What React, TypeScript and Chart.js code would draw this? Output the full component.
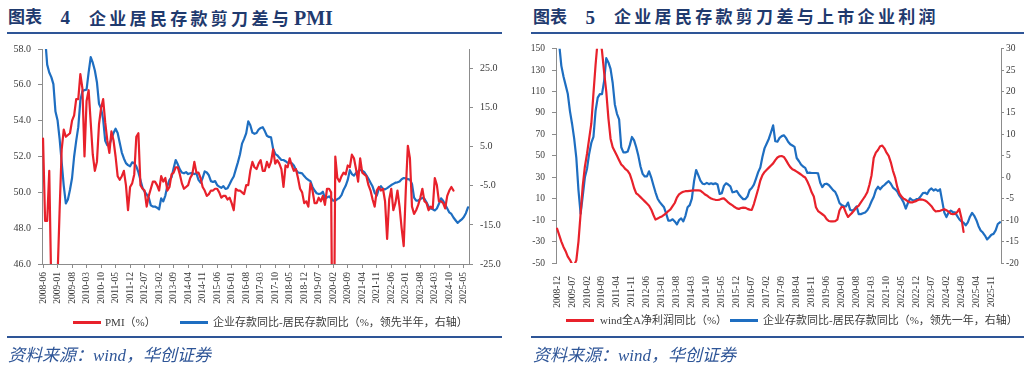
import React, { useEffect, useRef } from 'react';
import { Chart, registerables } from 'chart.js';
Chart.register(...registerables);

const RED = '#e8212b';
const BLUE = '#1e6ec1';
const AXIS = '#8c8c8c';
const TEXT = '#3a3a3a';
const NAVY = '#1f3a6e';
const RULE = '#2e5597';
const CLEAR = 'rgba(0,0,0,0)';
const FONT = "'Liberation Serif', 'Noto Sans CJK SC', serif";

// ---------- data: chart 4 ----------
const leftStart = '2008-06';
const leftCount = 206;
const leftTickLabels = ['2008-06','2009-01','2009-08','2010-03','2010-10','2011-05','2011-12','2012-07','2013-02','2013-09','2014-04','2014-11','2015-06','2016-01','2016-08','2017-03','2017-10','2018-05','2018-12','2019-07','2020-02','2020-09','2021-04','2021-11','2022-06','2023-01','2023-08','2024-03','2024-10','2025-05'];
const pmiLabel = 'PMI（%）';
const pmi = [
  53.0, 48.4, 48.4, 51.2, 44.6, 38.8, 41.2,
  45.3, 49.0, 52.4, 53.5, 53.1, 53.2, 53.3, 54.0, 54.3, 55.2, 55.2, 56.6,
  55.8, 52.0, 55.1, 55.7, 53.9, 52.1, 51.2, 51.7, 53.8, 54.7, 55.2, 53.9,
  52.9, 52.2, 53.4, 52.9, 52.0, 50.9, 50.7, 50.9, 51.2, 50.4, 49.0, 50.3,
  50.5, 51.0, 53.1, 53.3, 50.4, 50.2, 50.1, 49.2, 49.8, 50.2, 50.6, 50.6,
  50.4, 50.1, 50.9, 50.6, 50.8, 50.1, 50.3, 51.0, 51.1, 51.4, 51.4, 51.0,
  50.5, 50.2, 50.3, 50.4, 50.8, 51.0, 51.7, 51.1, 51.1, 50.8, 50.3, 50.1,
  49.8, 49.9, 50.1, 50.1, 50.2, 50.2, 50.0, 49.7, 49.8, 49.8, 49.6, 49.7,
  49.4, 49.0, 50.2, 50.1, 50.1, 50.0, 49.9, 50.4, 50.4, 51.2, 51.7, 51.4,
  51.3, 51.6, 51.8, 51.2, 51.2, 51.7, 51.4, 51.7, 52.4, 51.6, 51.8, 51.6,
  51.3, 50.3, 51.5, 51.4, 51.9, 51.5, 51.2, 51.3, 50.8, 50.2, 50.0, 49.4,
  49.5, 49.2, 50.5, 50.1, 49.4, 49.4, 49.7, 49.5, 49.8, 49.3, 50.2, 50.2,
  50.0, 35.7, 52.0, 50.8, 50.6, 50.9, 51.1, 51.0, 51.5, 51.4, 52.1, 51.9,
  51.3, 50.6, 51.9, 51.1, 51.0, 50.9, 50.4, 50.1, 49.6, 49.2, 50.1, 50.3,
  50.1, 50.2, 49.5, 47.4, 49.6, 50.2, 49.0, 49.4, 50.1, 49.2, 48.0, 47.0,
  50.1, 52.6, 51.9, 49.2, 48.8, 49.0, 49.3, 49.7, 50.2, 49.5, 49.4, 49.0,
  49.2, 49.1, 50.8, 50.4, 49.5, 49.5, 49.4, 49.1, 49.8, 50.1, 50.3, 50.1,
];
const leftSpreadLabel = '企业存款同比-居民存款同比（%，领先半年，右轴）';
const leftSpread = [
  36, 33, 26, 24, 22.8, 21, 14, 11.8, 7, 1,
  -5, -9.5, -8.5, -6, -3, 2.5, 6.5, 10, 16.8, 19.2,
  19.5, 19.6, 24, 27.9, 26.5, 24.5, 21.5, 16, 14.8, 12,
  6.5, 5.4, 5.6, 7, 8.5, 9.6, 8.5, 6, 3.5, 2,
  0.8, 0.3, 0, 1, 0.8, 0, -1.5, -3.5, -5.5, -6.5,
  -7.2, -8, -10, -10.3, -10.3, -10.6, -11, -8.2, -9, -7.5,
  -5, -3.5, -2.8, -0.5, 1.6, 0.5, -0.8, -1.6, -1.8, -1.5,
  -2, -1.8, -1.7, -2, -1.8, -3.5, -4.2, -3, -1.3, -1.6,
  -2.3, -3.8, -4, -3.8, -4.8, -5.2, -5.5, -5.1, -5.8, -5.6,
  -4.6, -3.5, -2.6, -0.8, 1, 3, 5.8, 7, 8.4, 11.5,
  10.5, 8.6, 8.3, 8.5, 9.4, 9.8, 10, 9, 7.8, 7.5,
  7.4, 4.5, 3.2, 2.8, 2.2, 1.6, 1.6, 1.3, 0.9, 0.9,
  0.8, 0.2, -0.9, -1.6, -1.7, -1.8, -2.5, -3.1, -3.5, -3.8,
  -5.3, -6.2, -6.9, -7.1, -7.0, -6.5, -8.2, -8.0, -7.7, -8.2,
  -8.8, -8.8, -8.4, -8.1, -7.4, -6.0, -5.0, -3.5, -1.0, -2.0,
  -2.4, -1.7, -1.3, -0.9, -1.1, -1.5, -2.3, -3.2, -4.2, -5.2,
  -6.8, -7.5, -5.8, -5.1, -5.8, -5.9, -5.6, -5.2, -4.8, -4.5,
  -4.2, -4.1, -3.9, -3.3, -3.0, -3.1, -3.3, -3.4, -4.5, -8.0,
  -8.8, -8.8, -8.4, -8.1, -8.3, -9.2, -10.3, -10.8, -11.0, -11.3,
  -10.8, -9.6, -8.2, -8.8, -9.8, -10.8, -11.8, -12.2, -13.1, -13.8,
  -14.5, -14.0, -13.6, -13.0, -12.0, -10.5,
];
const leftRightAxisTicks = [-25, -15, -5, 5, 15, 25];

// ---------- data: chart 5 ----------
const rightStart = '2008-12';
const rightCount = 208;
const rightTickLabels = ['2008-12','2009-07','2010-02','2010-09','2011-04','2011-11','2012-06','2013-01','2013-08','2014-03','2014-10','2015-05','2015-12','2016-07','2017-02','2017-09','2018-04','2018-11','2019-06','2020-01','2020-08','2021-03','2021-10','2022-05','2022-12','2023-07','2024-02','2024-09','2025-04','2025-11'];
const profitLabel = 'wind全A净利润同比（%）';
const profit = [
  -18, -24, -30, -35, -39, -44, -47, -51, -52, -47.5,
  -30, -4, 22, 40, 52, 66, 80, 108, 135, 158,
  162, 148, 128, 110, 85, 66, 58, 54, 50, 46,
  42, 40, 37.5, 36, 33, 27, 20, 15, 13.5, 11.5,
  9.5, 7.5, 5.5, 3.5, 0, -5, -9.5, -8.5, -7.4, -6.5,
  -5, -3.5, -1.5, 0, 3, 6, 11, 14, 15.5, 16.5,
  17, 17, 17.3, 17.5, 17.7, 17.7, 17.7, 17.5, 16, 14.2,
  13, 11.5, 10.2, 9.5, 9, 8.8, 9.2, 10, 10.3, 8.5,
  6.5, 5, 3.8, 2.2, 1, 0.5, 1.3, 1.7, 1.5, 0.5,
  -0.2, -0.4, 5, 12, 19, 27, 32, 35, 37, 39,
  41, 43, 46, 48.5, 49.6, 49.8, 49, 46, 42.5, 39.5,
  37.5, 36.5, 35.3, 34, 32.6, 31, 29.8, 26, 21.5, 16,
  12, 2, -1.5, -3, -4.5, -6, -9, -10.8, -11.1, -11.1,
  -11, -9.6, -1, 2.5, 2, -3, -7, -5, -3, -0.5,
  2, 3.5, 6.5, 9.5, 12.5, 16, 23, 32, 48, 53,
  55.5, 59, 59.5, 57, 53, 50, 44, 36, 30, 21,
  15, 12, 10, 9, 7.5, 6.5, 6.5, 7.3, 8, 9,
  9.4, 9, 8.3, 7, 5, 3, 0, -1.9, -1.5, -1.3,
  -0.5, 0.2, -0.8, -2, -4, -4.4, -4.2, -2.5, 0.5, -8,
  -21,
];
const rightSpreadLabel = '企业存款同比-居民存款同比（%，领先一年，右轴）';
const rightSpread = [
  34, 31, 26, 23.5, 21.5, 19.5, 15.5, 12.5, 9, 4.5,
  -3, -8.5, -4.4, 0, 2, 5.5, 8, 9.4, 15.5, 18.6,
  19.4, 19.4, 22.5, 27.8, 26.8, 25.3, 22, 17, 14.8, 13.5,
  7, 5.8, 5.8, 6, 7.5, 9.4, 8.6, 7, 5, 2.5,
  0.8, 0.2, 0.2, 1.4, 0, -1.8, -3.5, -5, -5.8, -6.4,
  -7, -8.5, -10.1, -10.1, -9.8, -10.3, -11, -10, -9.6, -10.3,
  -9, -7, -6.5, -5, -1, 1.7, 0.5, -0.8, -1.5, -1.6,
  -1.3, -1.6, -1.4, -1.6, -1.4, -1.7, -3.9, -3.7, -2, -1.4,
  -1.7, -2.1, -3.5, -3.4, -3.2, -4, -4.6, -5.1, -5.1, -4.5,
  -3, -2.5, -1.7, -0.3, 1.2, 2.3, 4.8, 6.8, 7.9, 9.0,
  10.5, 12.1, 8.4, 8.3, 9.2, 9.6, 9.8, 9.2, 8.3, 7.7,
  7.4, 7.1, 4.5, 3.8, 3.0, 2.5, 2.2, 1.0, 1.1, 1.0,
  1.0, 1.0, 0.9, -1.3, -2.3, -1.6, -1.5, -1.8, -2.4, -3.0,
  -3.4, -4.5, -6.0, -6.5, -6.7, -6.8, -5.9, -7.6, -7.8, -7.4,
  -6.8, -8.6, -8.6, -8.4, -8.2, -7.7, -6.8, -5.6, -4.6, -3.0,
  -2.2, -2.8, -2.2, -1.8, -1.3, -0.9, -1.5, -2.4, -2.8, -3.3,
  -4.3, -5.0, -5.9, -7.3, -6.0, -4.9, -5.3, -5.4, -5.1, -5.0,
  -4.4, -3.7, -3.6, -3.9, -3.0, -2.6, -3.1, -2.8, -3.2, -2.8,
  -5.5, -8.2, -9.3, -8.2, -7.8, -8.1, -8.2, -9.0, -9.8, -10.3,
  -10.6, -11.2, -10.5, -9.2, -8.3, -9.0, -10.0, -11.4, -12.4, -12.9,
  -13.6, -14.5, -14.0, -13.4, -13.2, -12.4, -10.9, -10.5,
];

function monthLabels(start: string, count: number): string[] {
  let [y, m] = start.split('-').map(Number);
  const out: string[] = [];
  for (let i = 0; i < count; i++) {
    out.push(`${y}-${String(m).padStart(2, '0')}`);
    m += 1;
    if (m > 12) { m = 1; y += 1; }
  }
  return out;
}

const tickFont = (size: number) => ({ family: FONT, size });

function lineDs(label: string, data: number[], color: string, axis: string) {
  return {
    label, data, yAxisID: axis, borderColor: color, backgroundColor: color,
    borderWidth: 2.2, pointRadius: 0, tension: 0, clip: 0,
    borderJoinStyle: 'round', borderCapStyle: 'round', fill: false,
  };
}

function xAxis(cats: string[], shown: string[], withMarks: boolean, pad: number) {
  const isShown = (v: number) => shown.includes(cats[v]);
  return {
    type: 'category', offset: true,
    grid: withMarks
      ? { display: true, drawOnChartArea: false, drawTicks: true, tickLength: 4, offset: false, color: AXIS,
          tickColor: (ctx: any) => (ctx.tick && isShown(ctx.tick.value) ? AXIS : CLEAR) }
      : { display: false },
    border: { display: withMarks, color: AXIS },
    ticks: {
      autoSkip: false, maxRotation: 90, minRotation: 90, padding: pad, color: TEXT, font: tickFont(9.5),
      callback: (v: any) => (isShown(Number(v)) ? cats[Number(v)] : ''),
    },
    afterFit: (s: any) => { s.height = 45; },
  };
}

function makeLeft(canvas: HTMLCanvasElement) {
  const cats = monthLabels(leftStart, leftCount);
  return new Chart(canvas, {
    type: 'line',
    data: {
      labels: cats,
      datasets: [
        lineDs(pmiLabel, pmi, RED, 'y'),
        lineDs(leftSpreadLabel, leftSpread, BLUE, 'y1'),
      ] as any,
    },
    options: {
      animation: false,
      responsive: false,
      devicePixelRatio: 1,
      layout: { padding: { top: 9, bottom: 7, left: 0, right: 0 } },
      plugins: { legend: { display: false }, tooltip: { enabled: false } },
      scales: {
        x: xAxis(cats, leftTickLabels, true, 4),
        y: {
          position: 'left', min: 46, max: 58,
          ticks: { stepSize: 2, padding: 7, color: TEXT, font: tickFont(10), callback: (v: any) => Number(v).toFixed(1) },
          grid: { drawOnChartArea: false, tickLength: 4, color: AXIS },
          border: { display: true, color: AXIS },
          afterFit: (s: any) => { s.width = 42; },
        },
        y1: {
          position: 'right', min: -25, max: 30,
          afterBuildTicks: (s: any) => { s.ticks = leftRightAxisTicks.map((v) => ({ value: v })); },
          ticks: { padding: 7, color: TEXT, font: tickFont(10), callback: (v: any) => Number(v).toFixed(1) },
          grid: { drawOnChartArea: false, tickLength: 4, color: AXIS },
          border: { display: true, color: AXIS },
          afterFit: (s: any) => { s.width = 43; },
        },
      },
    } as any,
  });
}

function makeRight(canvas: HTMLCanvasElement) {
  const cats = monthLabels(rightStart, rightCount);
  return new Chart(canvas, {
    type: 'line',
    data: {
      labels: cats,
      datasets: [
        lineDs(profitLabel, profit, RED, 'y'),
        lineDs(rightSpreadLabel, rightSpread, BLUE, 'y1'),
      ] as any,
    },
    options: {
      animation: false,
      responsive: false,
      devicePixelRatio: 1,
      layout: { padding: { top: 9, bottom: 8, left: 0, right: 0 } },
      plugins: { legend: { display: false }, tooltip: { enabled: false } },
      scales: {
        x: xAxis(cats, rightTickLabels, false, 5),
        y: {
          position: 'left', min: -50, max: 150,
          ticks: { stepSize: 20, padding: 7, color: TEXT, font: tickFont(9.5) },
          grid: {
            drawOnChartArea: true, tickLength: 4, tickColor: AXIS,
            color: (ctx: any) => (ctx.tick && ctx.tick.value === 0 ? '#505050' : CLEAR),
          },
          border: { display: true, color: AXIS },
          afterFit: (s: any) => { s.width = 44; },
        },
        y1: {
          position: 'right', min: -20, max: 30,
          ticks: { stepSize: 5, padding: 2, color: TEXT, font: tickFont(9.5) },
          grid: { drawOnChartArea: false, tickLength: 3, color: AXIS },
          border: { display: true, color: AXIS },
          afterFit: (s: any) => { s.width = 23; },
        },
      },
    } as any,
  });
}

const abs = (o: React.CSSProperties): React.CSSProperties => ({ position: 'absolute', ...o });

const titleBase: React.CSSProperties = {
  position: 'absolute', top: 8, height: 20, lineHeight: '20px', whiteSpace: 'nowrap',
  color: NAVY, fontFamily: FONT, fontWeight: 700,
};

function Title({ left, num, text, latin }: { left: number; num: string; text: string; latin?: string }) {
  return (
    <>
      <div style={{ ...titleBase, left, fontSize: 17 }}>图表</div>
      <div style={{ ...titleBase, left: left + 52.5, fontSize: 19 }}>{num}</div>
      <div style={{ ...titleBase, left: left + 81, fontSize: 17, letterSpacing: 3.3 }}>
        {text}
        {latin ? <span style={{ fontSize: 20, letterSpacing: 0, marginLeft: 2 }}>{latin}</span> : null}
      </div>
    </>
  );
}

function LegendItem({ x, lineX, y, color, text }: { x: number; lineX: number; y: number; color: string; text: string }) {
  return (
    <>
      <div style={abs({ left: lineX, top: y - 1.5, width: 28, height: 3, background: color })} />
      <div style={abs({ left: x, top: y - 8, height: 16, lineHeight: '16px', fontSize: 11, fontFamily: FONT, color: TEXT, whiteSpace: 'nowrap' })}>{text}</div>
    </>
  );
}

function Source({ left }: { left: number }) {
  return (
    <div style={abs({ left, top: 345, height: 22, lineHeight: '22px', fontSize: 17, fontStyle: 'italic', color: RULE, fontFamily: FONT, whiteSpace: 'nowrap' })}>
      资料来源：wind，华创证券
    </div>
  );
}

export default function App() {
  const leftRef = useRef<HTMLCanvasElement>(null);
  const rightRef = useRef<HTMLCanvasElement>(null);
  useEffect(() => {
    const a = makeLeft(leftRef.current!);
    const b = makeRight(rightRef.current!);
    return () => { a.destroy(); b.destroy(); };
  }, []);
  return (
    <div style={abs({ left: 0, top: 0, width: 1024, height: 376, background: '#fff', overflow: 'hidden' })}>
      <Title left={8} num="4" text="企业居民存款剪刀差与" latin="PMI" />
      <div style={abs({ left: 7, top: 32, width: 495, height: 2, background: RULE })} />
      <canvas ref={leftRef} width={512} height={280} style={abs({ left: 0, top: 36, width: 512, height: 280 })} />
      <LegendItem lineX={73} x={105} y={322} color={RED} text={pmiLabel} />
      <LegendItem lineX={180} x={213} y={322} color={BLUE} text={leftSpreadLabel} />
      <div style={abs({ left: 7, top: 336, width: 495, height: 2, background: RULE })} />
      <Source left={8} />

      <Title left={533} num="5" text="企业居民存款剪刀差与上市企业利润" />
      <div style={abs({ left: 531, top: 32, width: 493, height: 2, background: RULE })} />
      <canvas ref={rightRef} width={512} height={280} style={abs({ left: 512, top: 36, width: 512, height: 280 })} />
      <LegendItem lineX={566} x={600} y={320} color={RED} text={profitLabel} />
      <LegendItem lineX={730} x={763} y={320} color={BLUE} text={rightSpreadLabel} />
      <div style={abs({ left: 531, top: 336, width: 493, height: 2, background: RULE })} />
      <Source left={533} />
    </div>
  );
}
